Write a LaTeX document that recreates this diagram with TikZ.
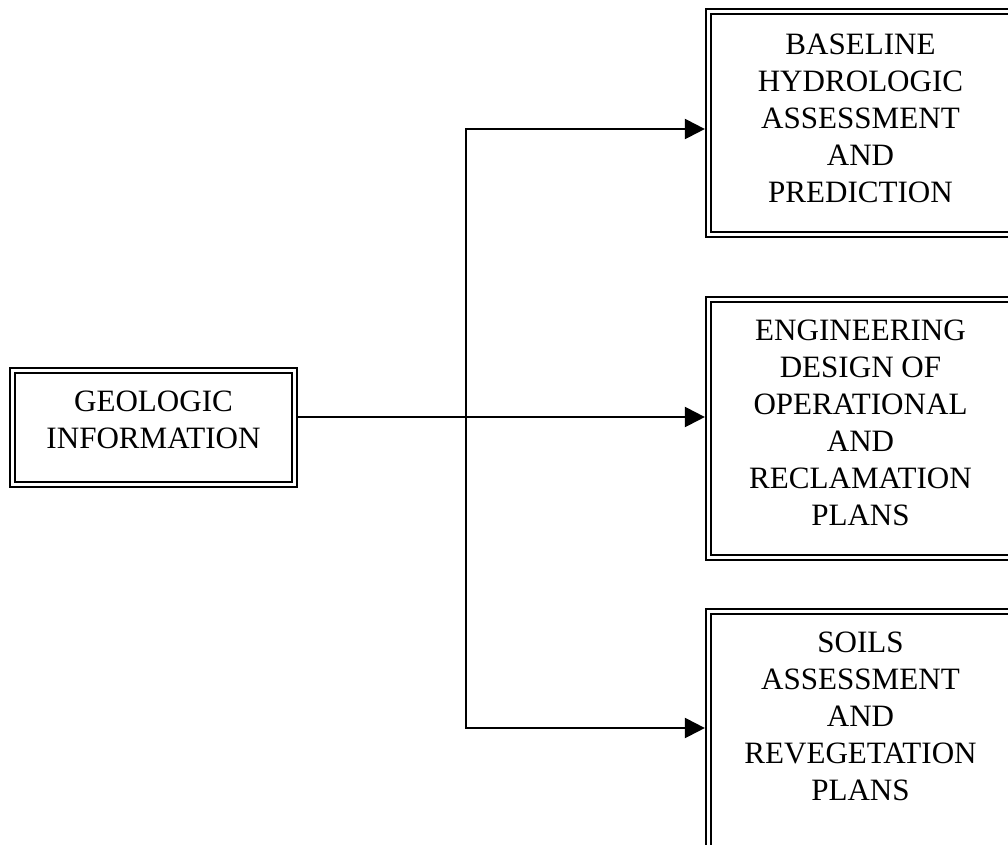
\documentclass[tikz,border=0pt]{standalone}
\usepackage{fontspec}
\setmainfont{Liberation Serif}
\usepackage{tikz}
\usetikzlibrary{arrows.meta,positioning}

\begin{document}
\begin{tikzpicture}[x=0.75pt,y=-0.75pt,
  flow/.style={line width=1.6pt,-{Triangle[length=15pt,width=15pt]}},
  dbl box/.style={rectangle,draw,double,line width=1.6pt,double distance=2.2pt,outer sep=2.7pt,inner sep=0pt},
  box text/.style={inner sep=0pt,align=center,anchor=north,font=\fontsize{23.3}{27.75}\selectfont}]

  \useasboundingbox (0,0) rectangle (1008,844);

  \node[dbl box,minimum width=211.5pt,minimum height=85.5pt] (geo) at (153.5,427.5) {};
  \node[dbl box,minimum width=228pt,minimum height=167.25pt] (hydro) at (860.5,123) {};
  \node[dbl box,minimum width=228pt,minimum height=193.5pt] (engr) at (860.5,428.5) {};
  \node[dbl box,minimum width=228pt,minimum height=186.4pt] (soil) at (860.5,735.75) {};

  \node[box text] (geoTxt) at ([yshift=-18pt]geo.north) {GEOLOGIC\\INFORMATION};
  \node[box text] (hydroTxt) at ([yshift=-19pt]hydro.north) {BASELINE\\HYDROLOGIC\\ASSESSMENT\\AND\\PREDICTION};
  \node[box text] (engrTxt) at ([yshift=-18pt]engr.north) {ENGINEERING\\DESIGN OF\\OPERATIONAL\\AND\\RECLAMATION\\PLANS};
  \node[box text] (soilTxt) at ([yshift=-18pt]soil.north) {SOILS\\ASSESSMENT\\AND\\REVEGETATION\\PLANS};

  \coordinate (fork) at (466,417);
  \coordinate (forkTop) at (466,129);
  \coordinate (forkBot) at (466,728);

  \draw[flow] (geo.east |- fork) -- (engr.west |- fork);
  \draw[flow] (fork) |- (hydro.west |- forkTop);
  \draw[flow] (fork) |- (soil.west |- forkBot);

\end{tikzpicture}
\end{document}
